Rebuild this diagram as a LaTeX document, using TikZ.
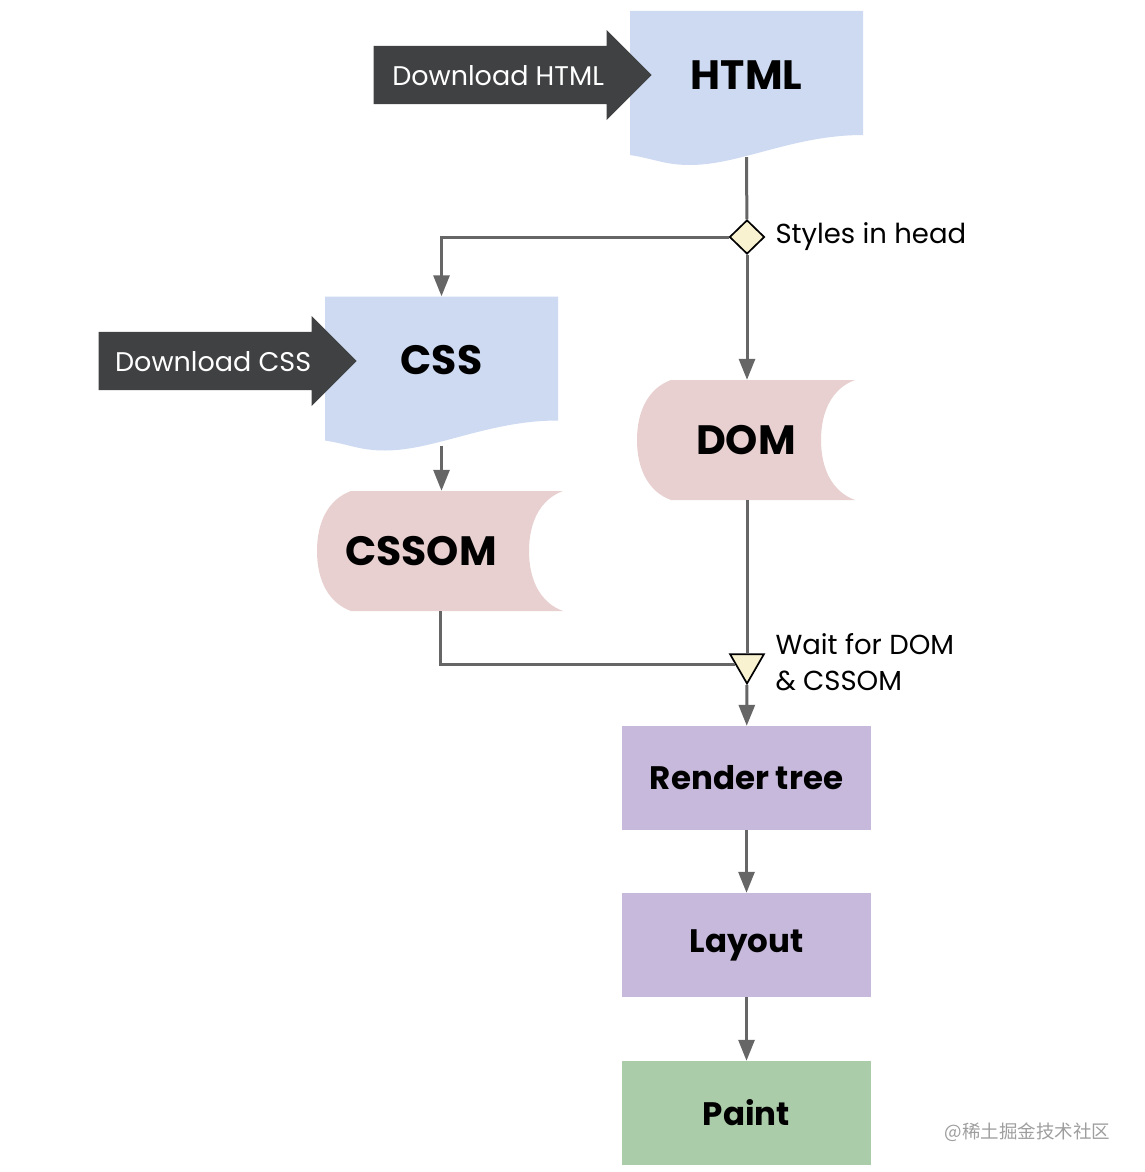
\documentclass[tikz,border=0pt]{standalone}
\usepackage{fontspec}
\setmainfont{Poppins}
\newfontfamily\cjkfont{Noto Sans CJK SC}
\usepackage{tikz}
\usetikzlibrary{positioning,calc,arrows.meta,shapes.geometric,shapes.arrows}

\definecolor{docblue}{RGB}{205,218,242}
\definecolor{storepink}{RGB}{232,207,208}
\definecolor{stagepurple}{RGB}{199,185,220}
\definecolor{paintgreen}{RGB}{171,204,168}
\definecolor{darkarrow}{RGB}{64,65,67}
\definecolor{linegray}{RGB}{102,102,102}
\definecolor{gatefill}{RGB}{248,242,208}

\tikzset{
  doc/.style={inner sep=0pt, minimum width=233pt, minimum height=154pt,
    text height=30pt, text depth=28pt,
    font=\bfseries\fontsize{41}{44}\selectfont,
    path picture={
      \fill[docblue] (path picture bounding box.north west)
        -- (path picture bounding box.north east)
        -- ([yshift=30pt]path picture bounding box.south east)
        .. controls +(-70pt,0pt) and +(50pt,0pt) .. ([xshift=60pt]path picture bounding box.south west)
        .. controls +(-25pt,0pt) and +(25pt,-4pt) .. ([yshift=10pt]path picture bounding box.south west)
        -- cycle;
    }},
  store/.style={inner sep=0pt, minimum height=120pt,
    font=\bfseries\fontsize{41}{44}\selectfont,
    path picture={
      \fill[storepink] ([xshift=34pt]path picture bounding box.south west)
        -- (path picture bounding box.south east)
        .. controls +(-22pt,8pt) and +(0pt,-30pt) .. ([xshift=-34pt]path picture bounding box.east)
        .. controls +(0pt,30pt) and +(-22pt,-8pt) .. (path picture bounding box.north east)
        -- ([xshift=34pt]path picture bounding box.north west)
        .. controls +(-22pt,-8pt) and +(0pt,30pt) .. (path picture bounding box.west)
        .. controls +(0pt,-30pt) and +(-22pt,8pt) .. ([xshift=34pt]path picture bounding box.south west)
        -- cycle;
    }},
  dlarrow/.style={single arrow, fill=darkarrow, text=white, draw=none,
    single arrow head extend=16pt, inner ysep=19pt, inner xsep=8pt,
    text height=20pt, text depth=0pt, anchor=tip,
    font=\fontsize{27}{30}\selectfont},
  gate/.style={draw=black, line width=1.7pt, fill=gatefill, inner sep=0pt},
  note/.style={anchor=west, align=left, font=\fontsize{27.5}{36}\selectfont},
  stagebox/.style={minimum width=249pt, minimum height=104pt, inner sep=0pt,
    font=\bfseries\fontsize{32.5}{35}\selectfont},
  link/.style={draw=linegray, line width=3pt},
  flow/.style={link, -{Triangle[length=21pt,width=16pt]}}
}

\begin{document}
\begin{tikzpicture}[x=1pt, y=-1pt]
  \useasboundingbox (0,0) rectangle (1144,1172);

  % sources
  \node[doc] (html) at (746.5,88) {HTML};
  \node[dlarrow, minimum height=278pt] (dlhtml) at (652,75) {Download HTML};
  \node[doc] (css) at (441.5,373.5) {CSS};
  \node[dlarrow, minimum height=258pt] (dlcss) at (357,361) {Download CSS};

  \node[gate, diamond, minimum width=35pt, minimum height=34pt] (styles) at (747,237) {};
  \node[note] (styleslbl) at (772,237) {Styles in head};

  % object models
  \node[store, minimum width=218pt] (dom) at (746,440) {DOM};
  \node[store, minimum width=246pt] (cssom) at (440,551) {CSSOM\hspace*{38pt}};

  \node[gate, regular polygon, regular polygon sides=3, shape border rotate=180,
        minimum size=39pt] (wait) at (747,664) {};
  \node[note] (waitlbl) at (772,662) {Wait for DOM\\\& CSSOM};

  % pipeline
  \node[stagebox, fill=stagepurple] (render) at (746.5,778) {Render tree};
  \node[stagebox, fill=stagepurple] (layout) at (746.5,945) {Layout};
  \node[stagebox, fill=paintgreen] (paint) at (746.5,1113) {Paint};

  \draw[link] ([yshift=8pt]html.south) -- (styles);
  \draw[flow] (styles) -- (styles |- dom.north);
  \draw[flow] (styles) -| (css.north);
  \draw[flow] ([yshift=5pt]css.south) -- (css.south |- cssom.north);
  \draw[link] (cssom.south) |- (wait);
  \draw[link] (styles |- dom.south) -- (wait);
  \draw[flow] (wait) -- (render);
  \draw[flow] (render) -- (layout);
  \draw[flow] (layout) -- (paint);

  \node[anchor=east, text=black!38, font=\cjkfont\fontsize{18.5}{22}\selectfont] (mark) at (1114,1132) {@稀土掘金技术社区};
\end{tikzpicture}
\end{document}
